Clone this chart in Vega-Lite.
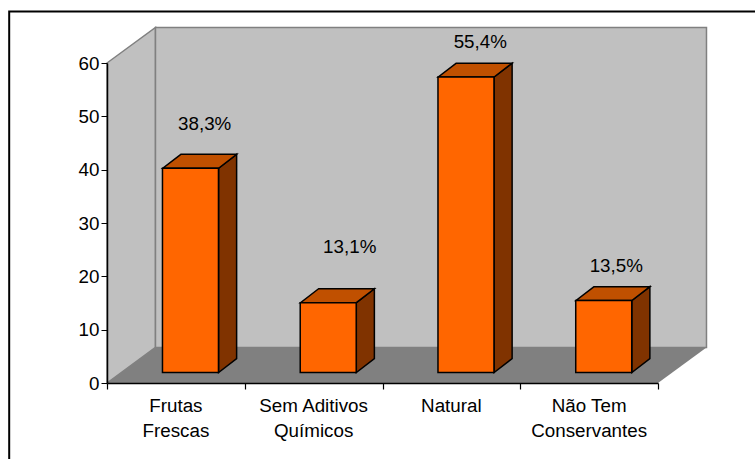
{
"$schema":"https://vega.github.io/schema/vega-lite/v6.json",
"width":551,"height":320,
"autosize":{"type":"none"},
"padding":{"left":107,"top":63,"right":97,"bottom":76},
"background":"white",
"config":{"view":{"stroke":null},"font":"Liberation Sans","text":{"font":"Liberation Sans"}},
"datasets":{
"bars":[
{"categoria":"Frutas Frescas","valor":38.3,"rotulo":"38,3%","rotuloX":0.709,"rotuloY":48.6},
{"categoria":"Sem Aditivos Químicos","valor":13.1,"rotulo":"13,1%","rotuloX":1.762,"rotuloY":25.5},
{"categoria":"Natural","valor":55.4,"rotulo":"55,4%","rotuloX":2.71,"rotuloY":64},
{"categoria":"Não Tem Conservantes","valor":13.5,"rotulo":"13,5%","rotuloX":3.697,"rotuloY":21.9}
],
"moldura":[{"x":-0.71,"x2":5,"y":69.66,"y2":-20}],
"fundo":[{"x":0.352,"x2":4.352,"y":66.66,"y2":6.66}],
"paredeEsq":[{"x":0,"y":60,"y2":0},{"x":0.352,"y":66.66,"y2":6.66}],
"piso":[{"y":0,"x":0,"x2":4},{"y":6.66,"x":0.352,"x2":4.352}],
"lateral":[
{"id":"a","x":0.81,"y":40.27,"y2":1.97},{"id":"a","x":0.941,"y":42.87,"y2":4.57},
{"id":"b","x":1.81,"y":15.07,"y2":1.97},{"id":"b","x":1.941,"y":17.67,"y2":4.57},
{"id":"c","x":2.81,"y":57.37,"y2":1.97},{"id":"c","x":2.941,"y":59.97,"y2":4.57},
{"id":"d","x":3.81,"y":15.47,"y2":1.97},{"id":"d","x":3.941,"y":18.07,"y2":4.57}
],
"topo":[
{"id":"a","y":40.27,"x":0.405,"x2":0.81},{"id":"a","y":42.87,"x":0.536,"x2":0.941},
{"id":"b","y":15.07,"x":1.405,"x2":1.81},{"id":"b","y":17.67,"x":1.536,"x2":1.941},
{"id":"c","y":57.37,"x":2.405,"x2":2.81},{"id":"c","y":59.97,"x":2.536,"x2":2.941},
{"id":"d","y":15.47,"x":3.405,"x2":3.81},{"id":"d","y":18.07,"x":3.536,"x2":3.941}
]
},
"resolve":{"scale":{"x":"independent"},"axis":{"x":"independent","y":"independent"}},
"layer":[
{"data":{"name":"moldura"},"mark":{"type":"rect","fill":"white","stroke":"black","strokeWidth":2},
"encoding":{"x":{"field":"x","type":"quantitative","scale":{"domain":[0,4],"nice":false,"zero":false},"axis":null},"x2":{"field":"x2"},
"y":{"field":"y","type":"quantitative","scale":{"domain":[0,60],"nice":false,"zero":false},"axis":null},"y2":{"field":"y2"}}},
{"data":{"name":"paredeEsq"},"mark":{"type":"area","fill":"#C0C0C0","stroke":"#808080","strokeWidth":1.5,"orient":"vertical"},
"encoding":{"x":{"field":"x","type":"quantitative","scale":{"domain":[0,4],"nice":false,"zero":false},"axis":null},
"y":{"field":"y","type":"quantitative","scale":{"domain":[0,60],"nice":false,"zero":false},"axis":null},"y2":{"field":"y2"}}},
{"data":{"name":"fundo"},"mark":{"type":"rect","fill":"#C0C0C0","stroke":"#808080","strokeWidth":1.5},
"encoding":{"x":{"field":"x","type":"quantitative","scale":{"domain":[0,4],"nice":false,"zero":false},"axis":null},"x2":{"field":"x2"},
"y":{"field":"y","type":"quantitative","scale":{"domain":[0,60],"nice":false,"zero":false},"axis":null},"y2":{"field":"y2"}}},
{"data":{"name":"piso"},"mark":{"type":"area","fill":"#808080","orient":"horizontal"},
"encoding":{"y":{"field":"y","type":"quantitative","scale":{"domain":[0,60],"nice":false,"zero":false},"axis":null},
"x":{"field":"x","type":"quantitative","scale":{"domain":[0,4],"nice":false,"zero":false},"axis":{"orient":"bottom","title":null,"values":[0,1,2,3,4],"labels":false,"ticks":true,"tickSize":6,"tickWidth":1.2,"tickColor":"black","domain":false,"grid":false,"zindex":1}},"x2":{"field":"x2"}}},
{"data":{"name":"lateral"},"mark":{"type":"area","fill":"#803300","stroke":"black","strokeWidth":1.5,"orient":"vertical"},
"encoding":{"detail":{"field":"id"},"x":{"field":"x","type":"quantitative","scale":{"domain":[0,4],"nice":false,"zero":false},"axis":null},
"y":{"field":"y","type":"quantitative","scale":{"domain":[0,60],"nice":false,"zero":false},"axis":null},"y2":{"field":"y2"}}},
{"data":{"name":"topo"},"mark":{"type":"area","fill":"#C05000","stroke":"black","strokeWidth":1.5,"orient":"horizontal"},
"encoding":{"detail":{"field":"id"},"y":{"field":"y","type":"quantitative","scale":{"domain":[0,60],"nice":false,"zero":false},"axis":null},
"x":{"field":"x","type":"quantitative","scale":{"domain":[0,4],"nice":false,"zero":false},"axis":null},"x2":{"field":"x2"}}},
{"data":{"name":"bars"},"mark":{"type":"bar","fill":"#FF6600","stroke":"black","strokeWidth":1.5,"xOffset":14.6,"x2Offset":14.6,"yOffset":-10.5,"y2Offset":-10.5},
"encoding":{
"x":{"field":"categoria","type":"nominal","sort":null,"scale":{"paddingInner":0.5935,"paddingOuter":0.2967},
"axis":{"orient":"bottom","title":null,"labelAngle":0,"ticks":false,"domain":true,"domainColor":"black","domainWidth":1.5,"zindex":1,"labelFont":"Liberation Sans","labelFontSize":18.8,"labelColor":"black","labelPadding":13,"labelLineHeight":25,"labelLimit":200,
"labelExpr":"indexof(datum.label,' ')<0 ? [datum.label] : [slice(datum.label,0,lastindexof(datum.label,' ')), slice(datum.label,lastindexof(datum.label,' ')+1)]"}},
"y":{"field":"valor","type":"quantitative","stack":null,"scale":{"domain":[0,60],"nice":false,"zero":false},
"axis":{"title":null,"grid":false,"values":[0,10,20,30,40,50,60],"tickSize":6,"tickColor":"black","domainColor":"black","domainWidth":1.5,"zindex":1,"labelFont":"Liberation Sans","labelFontSize":18.8,"labelColor":"black","labelPadding":2}},
"y2":{"datum":0}}},
{"data":{"name":"bars"},"mark":{"type":"text","font":"Liberation Sans","fontSize":18.8,"color":"black","align":"center","baseline":"middle"},
"encoding":{"text":{"field":"rotulo"},
"x":{"field":"rotuloX","type":"quantitative","scale":{"domain":[0,4],"nice":false,"zero":false},"axis":null},
"y":{"field":"rotuloY","type":"quantitative","scale":{"domain":[0,60],"nice":false,"zero":false},"axis":null}}}
]
}
